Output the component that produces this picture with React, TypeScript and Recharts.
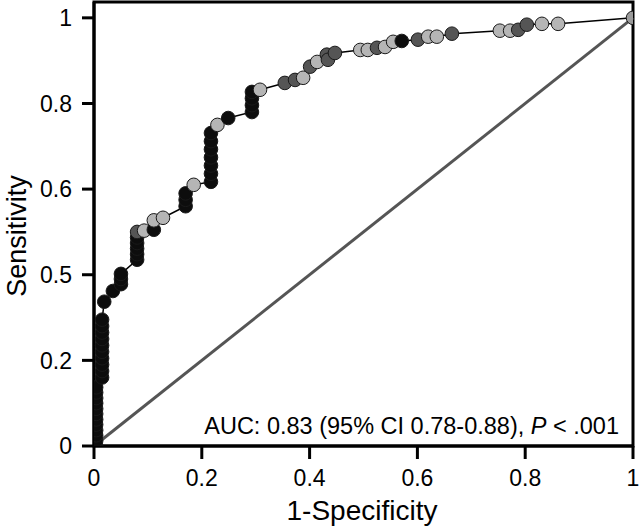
import { ComposedChart, Line, Scatter, XAxis, YAxis, ReferenceLine, ReferenceArea } from "recharts";

// ROC points: 1-specificity, sensitivity and marker shade
const fpr = [
  0.004, 0.004, 0.004, 0.004, 0.004, 0.004, 0.004, 0.004, 0.004, 0.004, 0.004, 0.004,
  0.015, 0.015, 0.015, 0.015, 0.015, 0.015, 0.015, 0.015, 0.015, 0.015,
  0.019, 0.035, 0.05, 0.05, 0.05,
  0.08, 0.08, 0.08, 0.08, 0.08, 0.08,
  0.093, 0.111, 0.111, 0.128,
  0.17, 0.17, 0.17, 0.185,
  0.217, 0.217, 0.217, 0.217, 0.217, 0.217, 0.217,
  0.229, 0.249,
  0.293, 0.293, 0.293, 0.293, 0.308,
  0.354, 0.373, 0.388, 0.401, 0.414, 0.432, 0.434, 0.447,
  0.494, 0.508, 0.525, 0.54, 0.555, 0.571, 0.601, 0.62, 0.636, 0.664,
  0.753, 0.772, 0.787, 0.803, 0.831, 0.861, 1,
];
const tpr = [
  0, 0.012, 0.025, 0.037, 0.05, 0.062, 0.075, 0.087, 0.1, 0.112, 0.125, 0.137,
  0.16, 0.175, 0.19, 0.205, 0.22, 0.235, 0.25, 0.265, 0.28, 0.295,
  0.337, 0.362, 0.378, 0.39, 0.402,
  0.435, 0.448, 0.461, 0.474, 0.487, 0.5,
  0.503, 0.505, 0.527, 0.533,
  0.56, 0.575, 0.59, 0.61,
  0.617, 0.636, 0.655, 0.674, 0.693, 0.712, 0.731,
  0.75, 0.766,
  0.78, 0.796, 0.812, 0.827, 0.832,
  0.848, 0.855, 0.86, 0.886, 0.897, 0.914, 0.902, 0.918,
  0.925, 0.925, 0.93, 0.932, 0.944, 0.946, 0.949, 0.956, 0.956, 0.963,
  0.97, 0.97, 0.972, 0.984, 0.986, 0.986, 1,
];
const shade = [
  "k", "k", "k", "k", "k", "k", "k", "k", "k", "k", "k", "k",
  "k", "k", "k", "k", "k", "k", "k", "k", "k", "k",
  "k", "k", "k", "k", "k",
  "k", "k", "k", "k", "k", "d",
  "l", "k", "l", "l",
  "k", "k", "k", "l",
  "k", "k", "k", "k", "k", "k", "k",
  "l", "k",
  "k", "k", "k", "k", "l",
  "d", "d", "l", "d", "l", "d", "d", "d",
  "l", "l", "d", "l", "l", "k", "d", "l", "l", "d",
  "l", "l", "d", "d", "l", "l", "m",
];

const xTicks = [0, 0.2, 0.4, 0.6, 0.8, 1];
const xTickLabels = ["0", "0.2", "0.4", "0.6", "0.8", "1"];
const yTicks = [0, 0.2, 0.4, 0.6, 0.8, 1];
const yTickLabels = ["0", "0.2", "0.5", "0.6", "0.8", "1"];

const points = fpr.map((x, i) => ({ fpr: x, tpr: tpr[i], shade: shade[i] }));

const fills: Record<string, string> = { k: "#0d0d0d", d: "#555555", l: "#b5b5b5", m: "#9a9a9a" };
const font = "'Liberation Sans', Arial, sans-serif";

const Dot = (props: any) => {
  const { cx, cy, payload } = props;
  return <circle cx={cx} cy={cy} r={6.8} fill={fills[payload.shade]} stroke="#1a1a1a" strokeWidth={1} />;
};

export default function App() {
  return (
    <div style={{ position: "absolute", left: 0, top: 0, background: "#fff" }}>
      <ComposedChart width={640} height={528} margin={{ top: 2, right: 7, bottom: 0, left: 0 }}>
        <XAxis
          type="number"
          dataKey="fpr"
          domain={[0, 1]}
          ticks={xTicks}
          tickFormatter={(v) => xTickLabels[xTicks.indexOf(v)]}
          height={82}
          tickSize={13}
          tickMargin={11}
          axisLine={{ stroke: "#000", strokeWidth: 3 }}
          tickLine={{ stroke: "#000", strokeWidth: 3 }}
          tick={{ fill: "#000", fontSize: 23, fontFamily: font }}
          allowDataOverflow
        />
        <YAxis
          type="number"
          dataKey="tpr"
          domain={[0, 1.037]}
          ticks={yTicks}
          tickFormatter={(v) => yTickLabels[yTicks.indexOf(v)]}
          width={94}
          tickSize={12}
          tickMargin={10}
          axisLine={{ stroke: "#000", strokeWidth: 3 }}
          tickLine={{ stroke: "#000", strokeWidth: 3 }}
          tick={{ fill: "#000", fontSize: 23, fontFamily: font }}
          allowDataOverflow
        />
        <ReferenceArea x1={0} x2={1} y1={0} y2={1.037} fill="none" stroke="#000" strokeWidth={3} />
        <ReferenceLine segment={[{ x: 0, y: 0 }, { x: 1, y: 1 }]} stroke="#555" strokeWidth={3} />
        <Line data={points} dataKey="tpr" stroke="#000" strokeWidth={1.5} dot={false} type="linear" isAnimationActive={false} />
        <Scatter data={points} dataKey="tpr" shape={Dot} isAnimationActive={false} />
        <text x={619} y={434} textAnchor="end" fontSize={23.5} fontFamily={font} fill="#000">
          AUC: 0.83 (95% CI 0.78-0.88), <tspan fontStyle="italic">P</tspan> {"< .001"}
        </text>
        <text x={362} y={520} textAnchor="middle" fontSize={28} fontFamily={font} fill="#000">
          1-Specificity
        </text>
        <text x={26} y={236} textAnchor="middle" fontSize={27} fontFamily={font} fill="#000" transform="rotate(-90 26 236)">
          Sensitivity
        </text>
      </ComposedChart>
    </div>
  );
}
